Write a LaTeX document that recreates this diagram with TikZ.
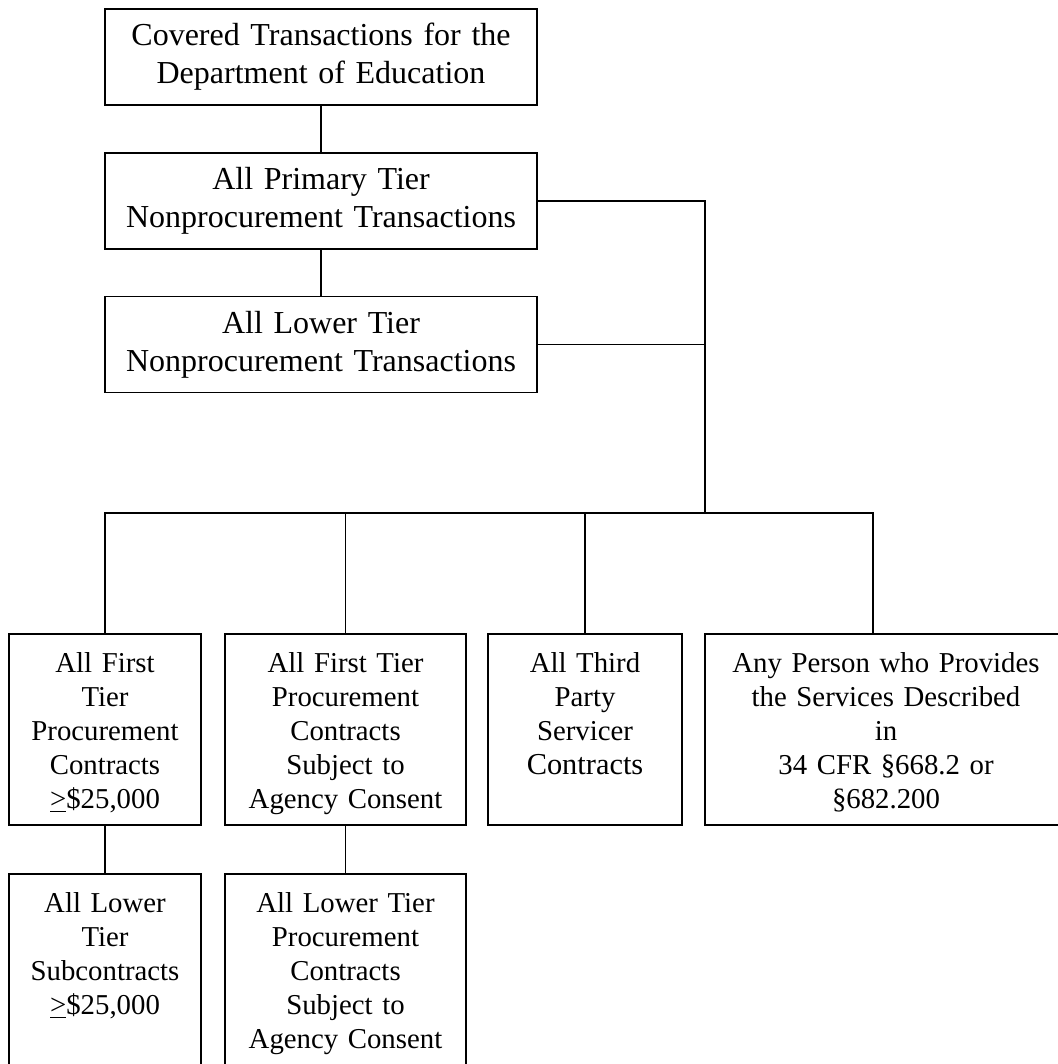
\documentclass[tikz,border=0pt]{standalone}
\usepackage{fontspec}
\setmainfont{Liberation Serif}
\begin{document}
\begin{tikzpicture}[
        x = 0.5pt, y = -0.5pt,
        head/.style = {draw, line width = 0.8pt, inner sep = 0pt, align = center,
            text width = 216pt, minimum height = 48pt,
            font = \fontsize{16}{19}\selectfont},
        cell/.style = {draw, line width = 0.8pt, inner sep = 0pt, align = center,
            anchor = north, text height = 19.25pt, text depth = 76.25pt,
            font = \fontsize{14.4}{17}\selectfont},
        deep/.style = {cell, text depth = 77.75pt},
        link/.style = {line width = 0.65pt}
    ]
    \useasboundingbox (0, 0) rectangle (1058, 1064);
    \clip (0, 0) rectangle (1058, 1064);
    \path
        (321, 57) node[head] (cov) {Covered Transactions for the\\Department of Education}
        (321, 201) node[head] (prim) {All Primary Tier\\Nonprocurement Transactions}
        (321, 344.5) node[head] (low) {All Lower Tier\\Nonprocurement Transactions}
        (105, 633) node[cell, text width = 96pt] (fpc) {All First\\Tier\\Procurement\\Contracts\\\underline{>}\$25,000}
        (345.5, 633) node[cell, text width = 120.5pt] (fpa) {All First Tier\\Procurement\\Contracts\\Subject to\\Agency Consent}
        (585, 633) node[cell, text width = 97pt] (tps) {All Third\\Party\\Servicer\\{\fontsize{15.2}{17}\selectfont Contracts}}
        (886, 633) node[cell, text width = 181pt] (any) {Any Person who Provides\\the Services Described\\in\\34 CFR §668.2 or\\§682.200}
        (105, 873) node[deep, text width = 96pt] (lsc) {All Lower\\Tier\\Subcontracts\\\underline{>}\$25,000}
        (345.5, 873) node[deep, text width = 120.5pt] (lpa) {All Lower Tier\\Procurement\\Contracts\\Subject to\\Agency Consent}
    ;
    \coordinate (hub) at (705, 513);
    \coordinate (drop) at (873, 633);
    \draw[link]
        (cov) -- (prim)
        (prim) -- (low)
        (prim.east) -| (hub)
        (low.east) -- (low.east -| hub)
        (fpc.north) |- (drop |- hub) -- (drop)
        (fpa.north) -- (fpa.north |- hub)
        (tps.north) -- (tps.north |- hub)
        (fpc.south) -- (lsc.north)
        (fpa.south) -- (lpa.north)
    ;
\end{tikzpicture}
\end{document}
